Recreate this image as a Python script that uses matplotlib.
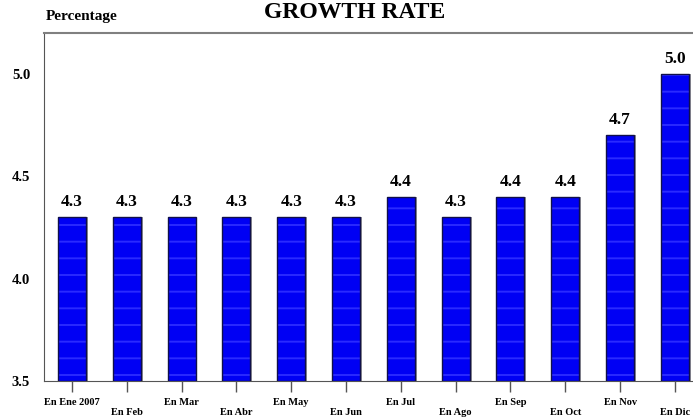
import matplotlib
matplotlib.use("Agg")
import matplotlib.pyplot as plt
import numpy as np

plt.rcParams["font.family"] = ["Liberation Serif", "DejaVu Serif"]
plt.rcParams["font.weight"] = "bold"
plt.rcParams["hatch.linewidth"] = 1.4

# Data
MONTHS = ["En Ene 2007", "En Feb", "En Mar", "En Abr", "En May", "En Jun",
          "En Jul", "En Ago", "En Sep", "En Oct", "En Nov", "En Dic"]
GROWTH = [4.3, 4.3, 4.3, 4.3, 4.3, 4.3, 4.4, 4.3, 4.4, 4.4, 4.7, 5.0]
YTICKS = [3.5, 4.0, 4.5, 5.0]


def plot_growth(outfile="out.png"):
    fig = plt.figure(figsize=(6.93, 4.18), dpi=100)
    ax = fig.add_axes([0.0635, 0.0885, 0.9365, 0.8325])

    x = np.arange(len(MONTHS))
    base = YTICKS[0]
    heights = [v - base for v in GROWTH]
    width = 0.51

    # shadow, patterned fill, outline
    ax.bar(x + 0.035, heights, width, bottom=base, color="#9a9a9a", zorder=1)
    ax.bar(x, heights, width, bottom=base, facecolor="#0000f4",
           edgecolor="#2a2aff", linewidth=0, hatch="-", zorder=2)
    ax.bar(x, heights, width, bottom=base, fill=False,
           edgecolor="#10104a", linewidth=1.0, zorder=3)

    for xi, v in zip(x, GROWTH):
        ax.text(xi, v + 0.035, f"{v:.1f}", ha="center", va="bottom",
                fontsize=12.5, fontweight="bold")

    # Axes
    ax.set_xlim(-0.51, 11.33)
    ax.set_ylim(3.5, 5.2)
    ax.set_yticks(YTICKS)
    ax.set_yticklabels([f"{t:.1f}" for t in YTICKS], fontsize=10.5,
                       fontweight="bold")
    ax.tick_params(axis="y", length=0, pad=10)

    ax.set_xticks(x)
    labels = [m if i % 2 == 0 else "\n" + m for i, m in enumerate(MONTHS)]
    ax.set_xticklabels(labels, fontsize=7.5, fontweight="bold",
                       linespacing=1.15)
    ax.tick_params(axis="x", length=8, width=1, color="#555555", pad=4.5,
                   direction="out")

    ax.spines.right.set_visible(False)
    ax.spines.top.set_color("#808080")
    ax.spines.top.set_linewidth(1.5)
    ax.spines.left.set_color("#555555")
    ax.spines.bottom.set_color("#555555")

    # Labels
    fig.text(0.0655, 1 - 20 / 418, "Percentage", fontsize=11,
             fontweight="bold", ha="left", va="baseline")
    fig.text(0.512, 1 - 2 / 418, "GROWTH RATE", fontsize=17,
             fontweight="bold", ha="center", va="top")

    fig.savefig(outfile, dpi=100)


if __name__ == "__main__":
    plot_growth()
